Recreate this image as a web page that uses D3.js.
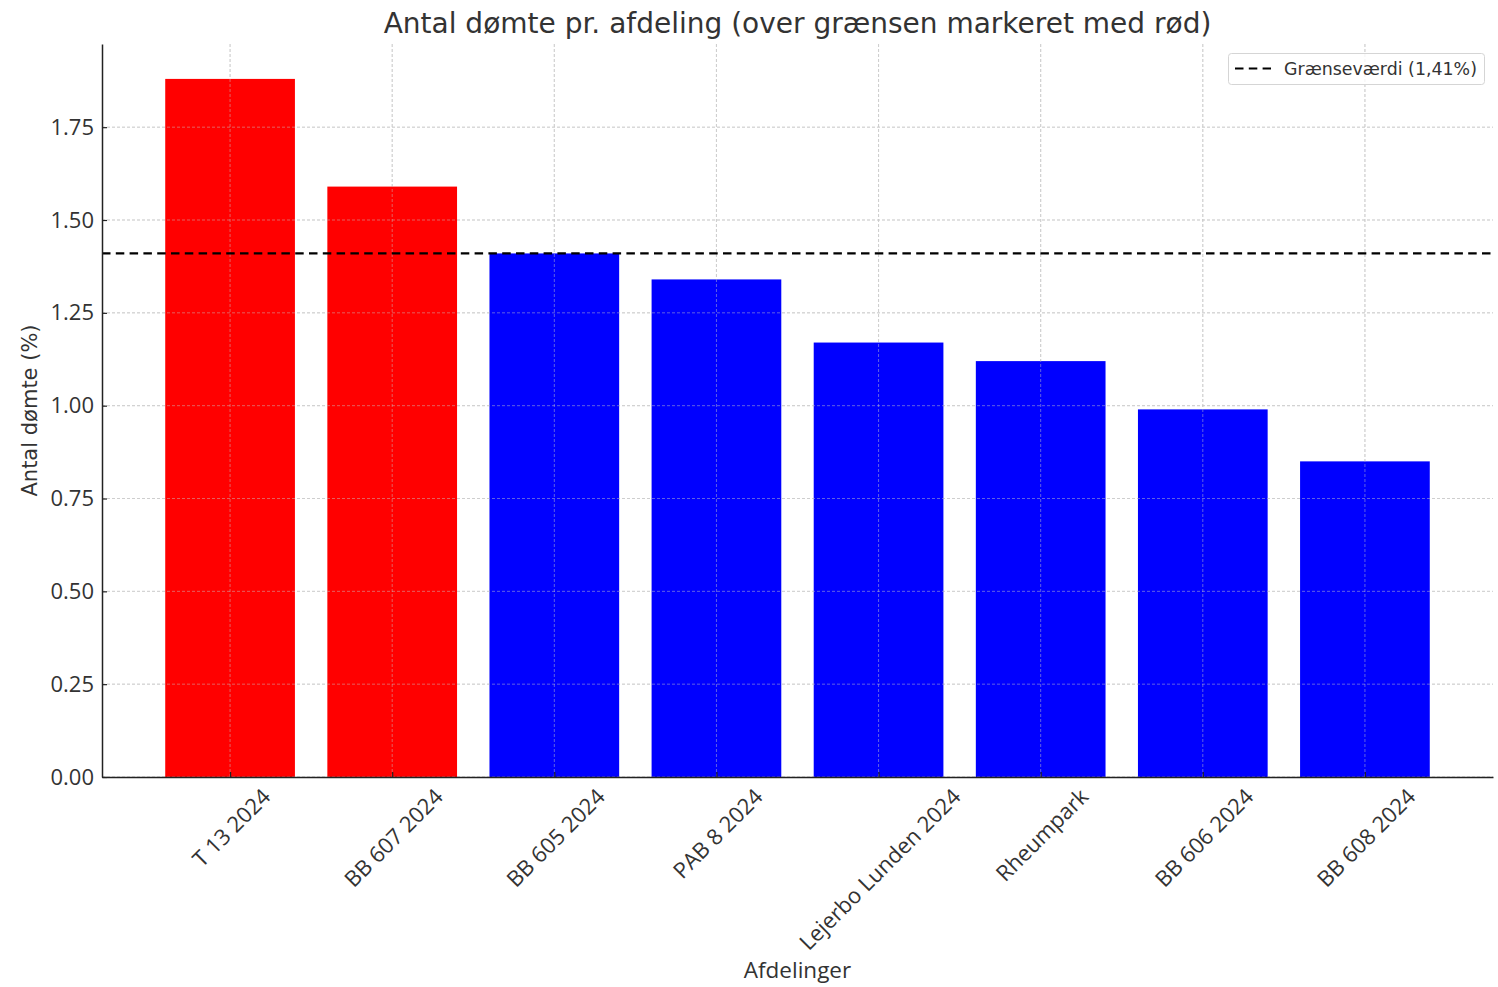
<!DOCTYPE html>
<html><head><meta charset="utf-8">
<script src="https://cdn.jsdelivr.net/npm/d3@7"></script>
<style>body{margin:0;background:#fff}</style>
</head><body>
<svg id="c" width="1498" height="987"></svg>
<script>
const categories = ["T 13 2024","BB 607 2024","BB 605 2024","PAB 8 2024","Lejerbo Lunden 2024","Rheumpark","BB 606 2024","BB 608 2024"];
const values = [1.88,1.59,1.41,1.34,1.17,1.12,0.99,0.85];
const threshold = 1.41;
const yTicks = [0,0.25,0.5,0.75,1.0,1.25,1.5,1.75];
const title = "Antal dømte pr. afdeling (over grænsen markeret med rød)";
const xLabel = "Afdelinger";
const yLabel = "Antal dømte (%)";
const legendLabel = "Grænseværdi (1,41%)";

const svg = d3.select("#c");
const L = 102, R = 1493, T = 44, B = 777;
const n = categories.length;
const x = d3.scaleLinear().domain([-0.79, n - 1 + 0.79]).range([L, R]);
const y = d3.scaleLinear().domain([0, d3.max(values) * 1.05]).range([B, T]);
const bw = x(0.8) - x(0);
const txt = "#333";
const tickFont = "Open Sans";
const tfs = 22;

function grid(sel, op) {
  sel.selectAll(".gy").data(yTicks).join("line")
    .attr("x1", L).attr("x2", R).attr("y1", d => y(d)).attr("y2", d => y(d))
    .attr("stroke", "#c8c8c8").attr("stroke-opacity", op).attr("stroke-width", 0.8).attr("stroke-dasharray", "3,2");
  sel.selectAll(".gx").data(categories).join("line")
    .attr("y1", T).attr("y2", B).attr("x1", (d,i) => x(i)).attr("x2", (d,i) => x(i))
    .attr("stroke", "#c8c8c8").attr("stroke-opacity", op).attr("stroke-width", 0.8).attr("stroke-dasharray", "3,2");
}
grid(svg.append("g"), 1);

// bars
svg.append("g").selectAll("rect").data(values).join("rect")
  .attr("x", (d,i) => x(i) - bw/2).attr("width", bw)
  .attr("y", d => y(d)).attr("height", d => B - y(d))
  .attr("fill", d => d > threshold ? "#ff0000" : "#0000ff");

grid(svg.append("g"), 0.6);

// threshold
svg.append("line").attr("x1", L).attr("x2", R).attr("y1", y(threshold)).attr("y2", y(threshold))
  .attr("stroke", "#000").attr("stroke-width", 2.2).attr("stroke-dasharray", "8.5,5.3");

// axes
const yAxis = d3.axisLeft(y).tickValues(yTicks).tickFormat(d3.format(".2f")).tickSizeInner(-5).tickSizeOuter(0).tickPadding(8);
const ya = svg.append("g").attr("transform", `translate(${L},0)`).call(yAxis);
ya.select(".domain").attr("stroke", "#222").attr("stroke-width", 1.5);
ya.selectAll(".tick line").attr("stroke", "#222").attr("stroke-width", 1.2);
ya.selectAll(".tick text").attr("font-family", tickFont).attr("font-size", tfs).attr("fill", txt);

const xAxis = d3.axisBottom(x).tickValues(d3.range(n)).tickFormat(i => categories[i]).tickSizeInner(-5).tickSizeOuter(0);
const xa = svg.append("g").attr("transform", `translate(0,${B})`).call(xAxis);
xa.select(".domain").attr("stroke", "#222").attr("stroke-width", 1.5);
xa.selectAll(".tick line").attr("stroke", "#222").attr("stroke-width", 1.2);
xa.selectAll(".tick text").each(function() {
  const t = d3.select(this);
  t.attr("font-family", tickFont).attr("font-size", tfs).attr("fill", txt)
   .attr("y", 0).attr("dy", null).attr("text-anchor", "middle").attr("dominant-baseline", "central");
  const w = this.getComputedTextLength();
  const h = tfs * 1.0;
  const half = (w + h) / Math.SQRT2 / 2;
  t.attr("transform", `translate(0,${7 + half}) rotate(-45)`);
});

// title and labels
svg.append("text").attr("x", (L + R) / 2).attr("y", 33).attr("text-anchor", "middle")
  .attr("font-family", "DejaVu Sans").attr("font-size", 28).attr("fill", txt).text(title);
svg.append("text").attr("x", (L + R) / 2).attr("y", 978).attr("text-anchor", "middle")
  .attr("font-family", tickFont).attr("font-size", 22.5).attr("fill", txt).text(xLabel);
svg.append("text").attr("transform", `translate(37,${(T + B) / 2}) rotate(-90)`).attr("text-anchor", "middle")
  .attr("font-family", "DejaVu Sans").attr("font-size", 21).attr("fill", txt).text(yLabel);

// legend
const lg = svg.append("g");
lg.append("rect").attr("x", 1228.5).attr("y", 53.5).attr("width", 256).attr("height", 31).attr("rx", 3)
  .attr("fill", "#fff").attr("fill-opacity", 0.8).attr("stroke", "#d5d5d5");
lg.append("line").attr("x1", 1235).attr("x2", 1271).attr("y1", 68.5).attr("y2", 68.5)
  .attr("stroke", "#000").attr("stroke-width", 2.2).attr("stroke-dasharray", "8.5,5.3");
lg.append("text").attr("x", 1284).attr("y", 74.5).attr("font-family", "DejaVu Sans").attr("font-size", 17.4)
  .attr("fill", txt).text(legendLabel);
</script>
</body></html>
